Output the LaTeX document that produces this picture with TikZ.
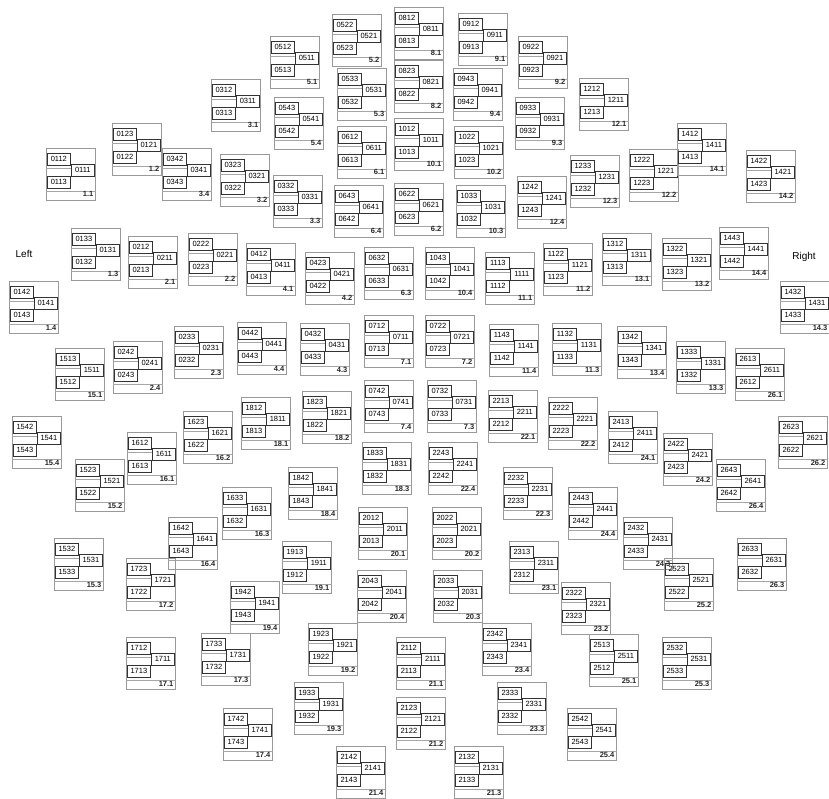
\documentclass[tikz,border=0pt]{standalone}
\usepackage{fontspec}
\setmainfont{Liberation Sans}
\usepackage{tikz}
\usetikzlibrary{positioning}
\tikzset{
  unitframe/.style={draw=black!40,line width=0.6pt,minimum width=49pt,
    minimum height=52pt,inner sep=0pt,anchor=north west},
  chan/.style={draw=black!80,line width=0.7pt,minimum width=23pt,
    minimum height=12pt,inner sep=0pt,anchor=north west,
    font=\fontsize{7.5}{7.5}\selectfont},
  rowline/.style={draw=black!35,line width=0.5pt},
  unitlabel/.style={font=\fontsize{7.5}{8}\selectfont\bfseries,
    inner sep=0pt,anchor=base east,text=black!85},
  sidelabel/.style={font=\fontsize{10}{12}\selectfont,inner sep=0pt}
}
% one sensor: x, y (top left), group, position, swapped rows
\newcommand{\sensorunit}[5]{%
  \node[unitframe] (u#3#4) at (#1,#2) {};
  \draw[rowline] ([yshift=-20pt]u#3#4.north west) -- ++(25,0);
  \draw[rowline] ([yshift=-43pt]u#3#4.north west) -- ([yshift=-43pt]u#3#4.north east);
  \node[chan] (t#3#4) at ([shift={(1pt,-5pt)}]u#3#4.north west)
    {\ifnum#5=1 #3#43\else #3#42\fi};
  \node[chan] (r#3#4) at ([shift={(25pt,-16pt)}]u#3#4.north west) {#3#41};
  \node[chan] (b#3#4) at ([shift={(1pt,-28pt)}]u#3#4.north west)
    {\ifnum#5=1 #3#42\else #3#43\fi};
  \node[unitlabel] (l#3#4) at ([shift={(-2pt,-49pt)}]u#3#4.north east) {\number#3.#4};
}

\begin{document}
\begin{tikzpicture}[x=1pt,y=-1pt]
  \useasboundingbox (0,0) rectangle (829,799);

  \foreach \x/\y/\g/\c/\f in {
      46/148/01/1/0, 112/123/01/2/1, 71/228/01/3/1, 9/281/01/4/0,
      128/236/02/1/0, 188/233/02/2/0, 174/326/02/3/1, 113/341/02/4/0,
      211/79/03/1/0, 220/154/03/2/1, 273/175/03/3/0, 162/148/03/4/0,
      246/243/04/1/0, 305/252/04/2/1, 300/323/04/3/0, 237/322/04/4/0,
      270/36/05/1/0, 332/14/05/2/0, 337/68/05/3/1, 274/97/05/4/1,
      337/126/06/1/0, 394/183/06/2/0, 364/247/06/3/0, 334/185/06/4/1,
      364/315/07/1/0, 425/315/07/2/0, 427/380/07/3/0, 364/380/07/4/0,
      394/7/08/1/0, 394/60/08/2/1,
      458/13/09/1/0, 518/36/09/2/0, 515/97/09/3/1, 453/68/09/4/1,
      394/118/10/1/0, 454/126/10/2/0, 456/185/10/3/1, 425/247/10/4/1,
      485/252/11/1/1, 543/243/11/2/0, 552/323/11/3/0, 489/324/11/4/1,
      579/78/12/1/0, 629/149/12/2/0, 570/155/12/3/1, 517/176/12/4/0,
      602/233/13/1/0, 662/238/13/2/0, 676/341/13/3/1, 617/326/13/4/0,
      677/123/14/1/0, 746/150/14/2/0, 780/281/14/3/0, 719/227/14/4/1,
      55/348/15/1/1, 75/459/15/2/1, 54/538/15/3/0, 12/416/15/4/0,
      127/432/16/1/0, 183/411/16/2/1, 222/487/16/3/1, 168/517/16/4/0,
      126/637/17/1/0, 126/558/17/2/1, 201/633/17/3/1, 223/708/17/4/0,
      241/397/18/1/0, 302/391/18/2/1, 362/442/18/3/1, 288/467/18/4/0,
      282/541/19/1/1, 308/623/19/2/1, 294/682/19/3/1, 230/581/19/4/0,
      358/507/20/1/0, 432/507/20/2/0, 433/570/20/3/1, 357/570/20/4/1,
      396/637/21/1/0, 396/697/21/2/1, 454/746/21/3/0, 336/746/21/4/0,
      488/390/22/1/1, 548/397/22/2/0, 503/467/22/3/0, 428/442/22/4/1,
      509/541/23/1/1, 561/582/23/2/0, 497/682/23/3/1, 482/623/23/4/0,
      608/411/24/1/1, 663/433/24/2/0, 623/517/24/3/0, 568/487/24/4/1,
      589/634/25/1/1, 664/558/25/2/1, 662/637/25/3/0, 567/708/25/4/0,
      735/348/26/1/1, 778/416/26/2/1, 737/538/26/3/1, 716/459/26/4/1}
    {\sensorunit{\x}{\y}{\g}{\c}{\f}}

  \node[sidelabel] (leftside) at (24,254) {Left};
  \node[sidelabel] (rightside) at (804,257) {Right};
\end{tikzpicture}
\end{document}
